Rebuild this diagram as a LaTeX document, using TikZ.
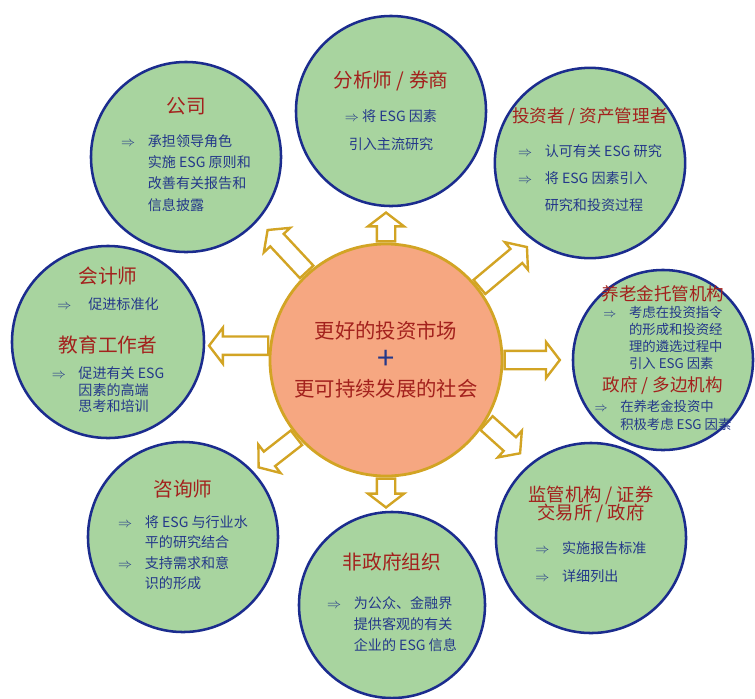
\documentclass[tikz,border=0pt]{standalone}
\usepackage{fontspec}
\setmainfont{Noto Sans CJK SC}
\usepackage{xcolor}
\usepackage{tikz}
\usetikzlibrary{shapes.arrows}
\definecolor{leaf}{HTML}{A8D49F}
\definecolor{navy}{HTML}{1B2C8E}
\definecolor{salmon}{HTML}{F6A781}
\definecolor{gold}{HTML}{D2A424}
\definecolor{titlered}{HTML}{A3211D}
\definecolor{textblue}{HTML}{24388A}
\newcommand{\ttl}[2][14]{\textcolor{titlered}{\fontsize{#1}{#1}\selectfont #2}}
\newcommand{\bul}{$\Rightarrow$}
\newcommand{\pts}[2]{{\renewcommand{\arraystretch}{#1}\begin{tabular}{@{}l@{\hskip 9pt}l@{}}#2\end{tabular}}}

\begin{document}
\begin{tikzpicture}[x=0.025cm,y=-0.025cm,every node/.style={font=\fontsize{10}{12}\selectfont},sat/.style={circle,draw=navy,line width=1.8pt,fill=leaf,minimum size=4.75cm,inner sep=0pt,align=center,text=textblue},hubnode/.style={circle,draw=gold,line width=2pt,fill=salmon,minimum size=5.8cm,align=center,text=titlered,font=\fontsize{14.5}{20}\selectfont},garrow/.style={single arrow,draw=gold,fill=white,line width=1.7pt,inner xsep=0pt,inner ysep=0.2cm,single arrow head extend=0.22cm,single arrow head indent=0pt,single arrow tip angle=105}]
\useasboundingbox (0,0) rectangle (755,698);
\node[hubnode] (hub) at (386,360) {更好的投资市场\\[2pt]{\color{textblue}\fontsize{22}{22}\selectfont +}\\[-1pt]更可持续发展的社会};
\node[sat] (gongsi) at (186,157) {\ttl{公司}\\[11pt]\pts{1.25}{\bul&承担领导角色\\&实施 ESG 原则和\\&改善有关报告和\\&信息披露}};
\node[sat] (fenxi) at (391,111) {\ttl{分析师 / 券商}\\[12pt]\bul\ 将 ESG 因素\\[8pt]引入主流研究};
\node[sat] (touzi) at (590,163) {\ttl[12.5]{投资者 / 资产管理者}\\[7pt]\pts{1.6}{\bul&认可有关 ESG 研究\\\bul&将 ESG 因素引入\\&研究和投资过程}};
\node[sat,minimum size=4.5cm,inner sep=-12pt,font=\fontsize{9.5}{11.5}\selectfont] (yanglao) at (663,360) {\ttl[12.5]{养老金托管机构}\\[2pt]\pts{1.05}{\bul&考虑在投资指令\\&的形成和投资经\\&理的遴选过程中\\&引入 ESG 因素}\\[1pt]\ttl[12.5]{政府 / 多边机构}\\[2pt]\pts{1.1}{\bul&在养老金投资中\\&积极考虑 ESG 因素}};
\node[sat] (jianguan) at (591,538) {\ttl[13]{监管机构 / 证券}\\[-1pt]\ttl[13]{交易所 / 政府}\\[6pt]\pts{1.7}{\bul&实施报告标准\\\bul&详细列出}};
\node[sat,minimum size=4.65cm] (feizf) at (392,605) {\ttl{非政府组织}\\[15pt]\pts{1.25}{\bul&为公众、金融界\\&提供客观的有关\\&企业的 ESG 信息}};
\node[sat] (zixun) at (183,537) {\ttl{咨询师}\\[10pt]\pts{1.2}{\bul&将 ESG 与行业水\\&平的研究结合\\\bul&支持需求和意\\&识的形成}};
\node[sat,minimum size=4.8cm] (kuaiji) at (108,342) {\ttl{会计师}\\[6pt]\bul\hskip 12pt 促进标准化\\[17pt]\ttl{教育工作者}\\[8pt]\pts{0.95}{\bul&促进有关 ESG\\&因素的高端\\&思考和培训}};
\node[garrow,rotate=90,anchor=tail,minimum height=0.72cm] (aFenxi) at (hub.90) {};
\node[garrow,rotate=133,anchor=tail,minimum height=1.43cm] (aGongsi) at (hub.132) {};
\node[garrow,rotate=40,anchor=tail,minimum height=1.55cm] (aTouzi) at (hub.38) {};
\node[garrow,rotate=180,anchor=tail,minimum height=1.48cm] (aKuaiji) at (hub.173) {};
\node[garrow,rotate=0,anchor=tail,minimum height=1.38cm] (aYanglao) at (hub.0) {};
\node[garrow,rotate=218,anchor=tail,minimum height=1.2cm] (aZixun) at (hub.221) {};
\node[garrow,rotate=-42,anchor=tail,minimum height=1.13cm] (aJianguan) at (hub.-32) {};
\node[garrow,rotate=270,anchor=tail,minimum height=0.72cm] (aFeizf) at (hub.270) {};
\end{tikzpicture}
\end{document}
